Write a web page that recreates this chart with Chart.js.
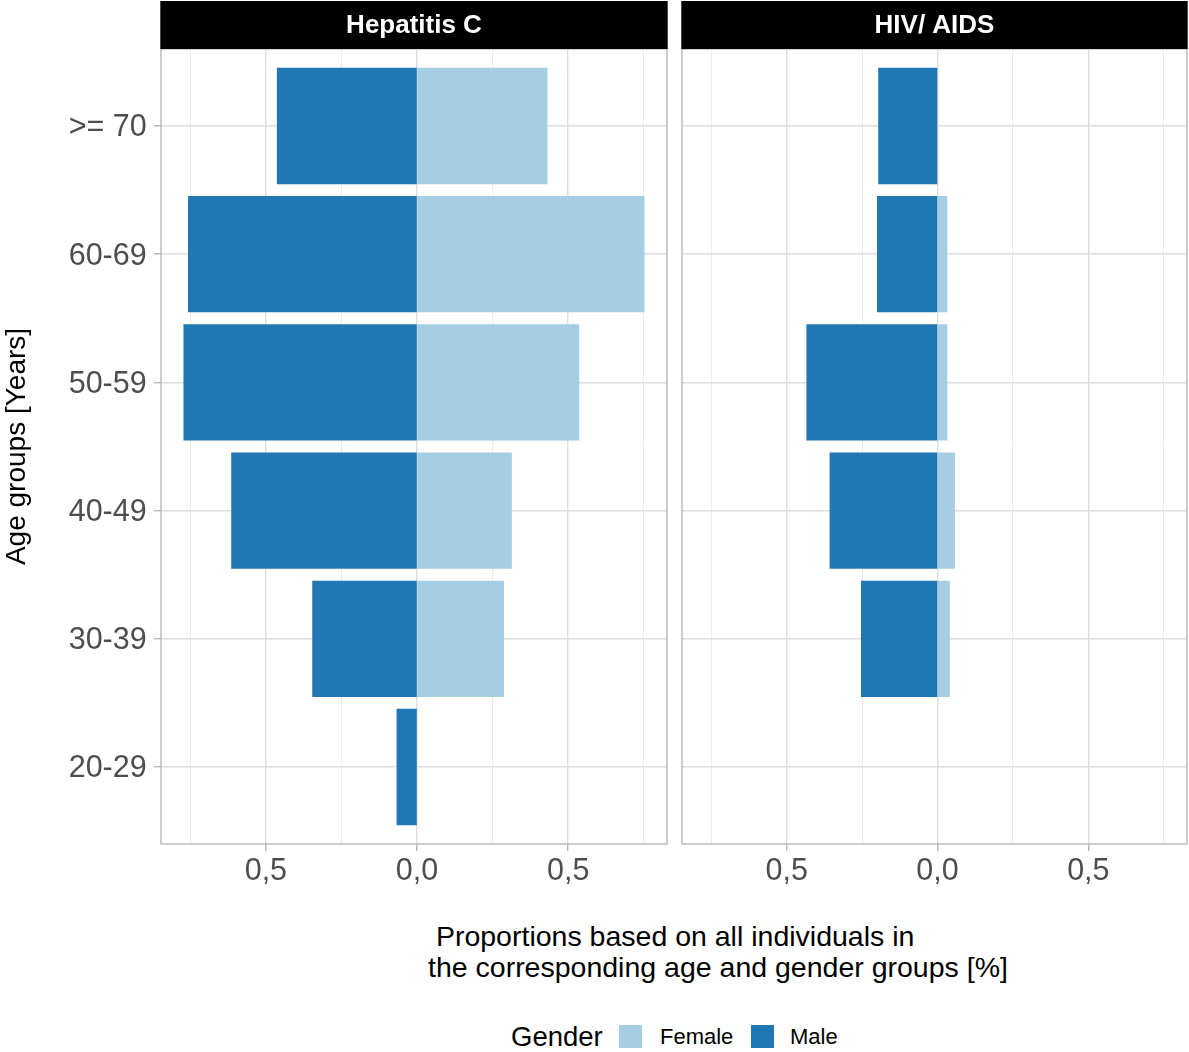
<!DOCTYPE html>
<html><head><meta charset="utf-8">
<script src="https://cdn.jsdelivr.net/npm/chart.js@4.4.1/dist/chart.umd.min.js"></script>
<style>
html,body{margin:0;padding:0;background:#fff;}
#wrap{position:relative;width:1189px;height:1052px;overflow:hidden;font-family:"Liberation Sans",Arial,sans-serif;background:#fff;}
canvas{position:absolute;left:0;top:0;}
#xtitle{position:absolute;left:428px;top:921px;font-size:28.5px;line-height:31px;white-space:pre;color:#000;}
.lg{position:absolute;top:1021.5px;height:30px;line-height:30px;white-space:pre;color:#000;}
.sw{position:absolute;top:1025px;width:23px;height:23px;}
</style></head><body>
<div id="wrap">
<canvas id="c1" width="1189" height="900"></canvas>
<canvas id="c2" width="1189" height="900"></canvas>
<div id="xtitle"> Proportions based on all individuals in
the corresponding age and gender groups [%]</div>
<span class="lg" style="left:511px;font-size:27.5px">Gender</span>
<div class="sw" style="left:619px;background:#a6cee3"></div>
<span class="lg" style="left:660px;font-size:22px">Female</span>
<div class="sw" style="left:751px;background:#1f78b4"></div>
<span class="lg" style="left:790px;font-size:22px">Male</span>
</div>
<script>
const ageGroups = ['20-29','30-39','40-49','50-59','60-69','>= 70'];
const panelTitles = ['Hepatitis C','HIV/ AIDS'];
const hepFemale = [null, 0.286, 0.312, 0.535, 0.751, 0.430];
const hepMale   = [-0.066, -0.345, -0.613, -0.771, -0.756, -0.462];
const hivFemale = [null, 0.039, 0.056, 0.031, 0.031, null];
const hivMale   = [null, -0.252, -0.356, -0.433, -0.199, -0.195];
const xTicks = [-0.75, -0.5, -0.25, 0, 0.25, 0.5, 0.75];
const xMajor = [-0.5, 0, 0.5];
const xMin = -0.847, xMax = 0.827;

const FONT = '"Liberation Sans", Arial, sans-serif';

const panelPlugin = {
  id: 'panel',
  afterDraw(chart, args, opts) {
    const ctx = chart.ctx, a = chart.chartArea;
    ctx.save();
    ctx.strokeStyle = '#b3b3b3';
    ctx.lineWidth = 1.3;
    ctx.strokeRect(a.left, a.top, a.right - a.left, a.bottom - a.top);
    ctx.fillStyle = '#000';
    ctx.fillRect(a.left - 0.7, 1, a.right - a.left + 1.4, a.top - 1);
    ctx.fillStyle = '#fff';
    ctx.font = 'bold 26px ' + FONT;
    ctx.textAlign = 'center';
    ctx.textBaseline = 'middle';
    ctx.fillText(opts.title, (a.left + a.right) / 2, 26);
    ctx.restore();
  }
};

function makeChart(id, title, female, male, showY) {
  const toPts = arr => arr.map((v, i) => ({x: v, y: i}));
  return new Chart(document.getElementById(id), {
    type: 'bar',
    data: {datasets: [
      {label: 'Female', data: toPts(female), backgroundColor: '#a6cee3', borderWidth: 0, inflateAmount: 0.5, categoryPercentage: 1, barPercentage: 0.9},
      {label: 'Male', data: toPts(male), backgroundColor: '#1f78b4', borderWidth: 0, inflateAmount: 0.5, categoryPercentage: 1, barPercentage: 0.9}
    ]},
    plugins: [panelPlugin],
    options: {
      indexAxis: 'y', responsive: false, animation: false,
      layout: {padding: {top: 49, left: 0, bottom: 0, right: showY ? 1189 - 667 : 2}},
      plugins: {legend: {display: false}, tooltip: {enabled: false}, panel: {title: title}},
      scales: {
        x: {
          type: 'linear', min: xMin, max: xMax, stacked: true, offset: false,
          afterBuildTicks: s => { s.ticks = xTicks.map(v => ({value: v})); },
          afterFit: s => { s.height = 56; },
          ticks: {autoSkip: false, maxRotation: 0, color: '#4d4d4d', padding: 2,
            font: {size: 30.5, family: FONT},
            callback: v => xMajor.includes(v) ? Math.abs(v).toFixed(1).replace('.', ',') : ''},
          grid: {
            offset: false,
            color: c => (c.tick && xMajor.includes(c.tick.value)) ? '#dedede' : '#ebebeb',
            lineWidth: c => (c.tick && xMajor.includes(c.tick.value)) ? 1.4 : 1.0,
            tickLength: 7, tickWidth: 1.3,
            tickColor: c => (c.tick && xMajor.includes(c.tick.value)) ? '#b3b3b3' : 'rgba(0,0,0,0)'
          },
          border: {display: false}
        },
        y: {
          type: 'linear', min: -0.6, max: 5.6, stacked: true, offset: false,
          afterBuildTicks: s => { s.ticks = ageGroups.map((_, i) => ({value: i})); },
          afterFit: s => { s.width = showY ? 161 : 682; },
          ticks: {display: showY, autoSkip: false, color: '#4d4d4d', padding: 7.3, labelOffset: 2,
            font: {size: 30.5, family: FONT},
            callback: v => ageGroups[v]},
          grid: {offset: false, color: '#dedede', lineWidth: 1.4, drawTicks: showY, tickLength: 7, tickWidth: 1.3, tickColor: '#b3b3b3'},
          border: {display: false},
          title: {display: showY, text: 'Age groups [Years]', color: '#000',
            font: {size: 28, family: FONT}, padding: {top: 0, bottom: 0}}
        }
      }
    }
  });
}

makeChart('c1', panelTitles[0], hepFemale, hepMale, true);
makeChart('c2', panelTitles[1], hivFemale, hivMale, false);
</script>
</body></html>
